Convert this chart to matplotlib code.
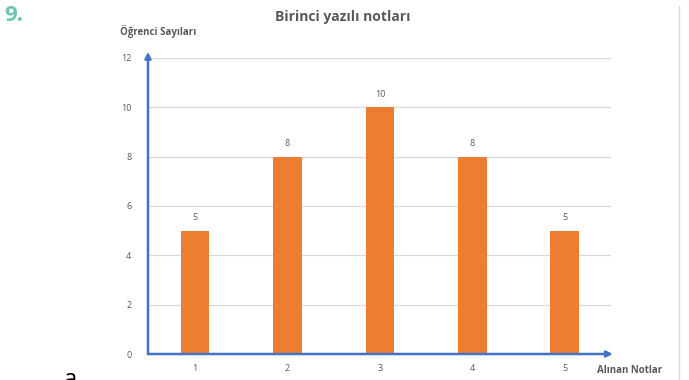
import matplotlib
matplotlib.use('Agg')
import matplotlib.pyplot as plt

# Not dağılımı
notlar = [1, 2, 3, 4, 5]
ogrenci_sayilari = [5, 8, 10, 8, 5]
y_ticks = [0, 2, 4, 6, 8, 10, 12]

plt.rcParams['font.family'] = ['Open Sans', 'DejaVu Sans']
gri = '#595959'
mavi = '#4472C4'
turuncu = '#ED7D31'

fig = plt.figure(figsize=(6.89, 3.8), dpi=100)
ax = fig.add_axes([0.2148, 0.0684, 0.672, 0.779])

bars = ax.bar(notlar, ogrenci_sayilari, width=0.31, color=turuncu, zorder=3)
for b, v in zip(bars, ogrenci_sayilari):
    ax.text(b.get_x() + b.get_width() / 2, v + 0.35, str(v),
            ha='center', va='bottom', fontsize=6.5, color=gri)

ax.set_xlim(0.49, 5.5)
ax.set_ylim(0, 12)
ax.set_yticks(y_ticks)
ax.set_xticks(notlar)
ax.tick_params(length=0, labelsize=6.5, labelcolor=gri)
ax.tick_params(axis='y', pad=12)
ax.tick_params(axis='x', pad=7)
ax.grid(axis='y', color='#d9d9d9', linewidth=0.9, zorder=0)
for s in ax.spines.values():
    s.set_visible(False)

# Oklu eksenler
ax.annotate('', xy=(5.52, 0), xytext=(0.49, 0),
            arrowprops=dict(arrowstyle='-|>', color=mavi, lw=1.8,
                            mutation_scale=9, shrinkA=0, shrinkB=0),
            annotation_clip=False, zorder=5)
ax.annotate('', xy=(0.49, 12.25), xytext=(0.49, 0),
            arrowprops=dict(arrowstyle='-|>', color=mavi, lw=1.8,
                            mutation_scale=9, shrinkA=0, shrinkB=0),
            annotation_clip=False, zorder=5)

fig.text(0.498, 0.955, 'Birinci yazılı notları', ha='center', va='center',
         fontsize=10, fontweight='bold', color=gri)
fig.text(0.174, 0.918, 'Öğrenci Sayıları', ha='left', va='center',
         fontsize=7, fontweight='bold', color=gri)
fig.text(0.866, 0.026, 'Alınan Notlar', ha='left', va='center',
         fontsize=7, fontweight='bold', color=gri)
fig.text(0.006, 0.958, '9.', ha='left', va='center',
         fontsize=16, fontweight='bold', color='#6CC5B0')
fig.text(0.092, 0.0, 'a', ha='left', va='center', fontsize=17, color='black')
fig.add_artist(plt.Line2D([0.9855, 0.9855], [0.0, 0.985], color='#d9d9d9', lw=1))

fig.savefig('out.png', dpi=100)
